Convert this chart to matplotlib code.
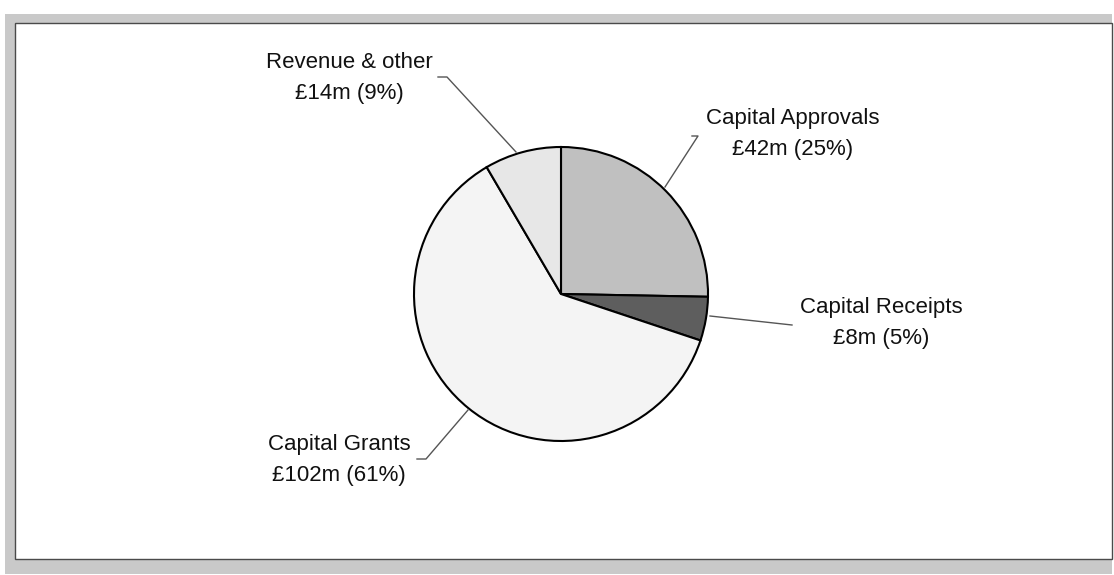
import matplotlib.pyplot as plt
from matplotlib.patches import Rectangle

plt.rcParams['font.family'] = ['Liberation Sans', 'DejaVu Sans']

# Funding sources (£m)
fuentes = ["Capital Approvals", "Capital Receipts", "Capital Grants", "Revenue & other"]
importes = [42, 8, 102, 14]
porcentajes = [25, 5, 61, 9]
colores = ["#c0c0c0", "#5e5e5e", "#f4f4f4", "#e7e7e7"]

W, H = 1114, 575

fig = plt.figure(figsize=(W / 100, H / 100), dpi=100)
ax = fig.add_axes([0, 0, 1, 1])

# marco gris con panel blanco
ax.add_patch(Rectangle((5, H - 574), 1107, 560, facecolor="#c9c9c9", edgecolor="none", zorder=0))
ax.add_patch(Rectangle((15, H - 559), 1097, 536, facecolor="white", edgecolor="#4a4a4a",
                       linewidth=1.0, zorder=1))

# tarta, en sentido horario desde arriba
ax.pie(importes, colors=colores, startangle=90, counterclock=False,
       center=(561, H - 294), radius=147, frame=True,
       wedgeprops=dict(edgecolor="black", linewidth=1.5, zorder=3))

# etiquetas
etiquetas = [f"{n}\n£{v}m ({p}%)" for n, v, p in zip(fuentes, importes, porcentajes)]
pos_etiquetas = [(793, 134), (881, 323), (339, 460), (349, 78)]
for texto, (x, y) in zip(etiquetas, pos_etiquetas):
    ax.text(x, H - y, texto, ha="center", va="center", multialignment="center",
            fontsize=16, linespacing=1.6, color="#111111", zorder=5)

# lineas guia
guias = [
    [(692, 136), (698, 136), (665, 187)],
    [(710, 316), (792, 325)],
    [(468, 410), (426, 459), (417, 459)],
    [(438, 77), (447, 77), (516, 152)],
]
for g in guias:
    xs = [p[0] for p in g]
    ys = [H - p[1] for p in g]
    ax.plot(xs, ys, color="#555555", linewidth=1.0, zorder=4)

ax.set_xlim(0, W)
ax.set_ylim(0, H)
ax.set_aspect("equal")
ax.axis("off")

fig.savefig("out.png", dpi=100, facecolor="white")
